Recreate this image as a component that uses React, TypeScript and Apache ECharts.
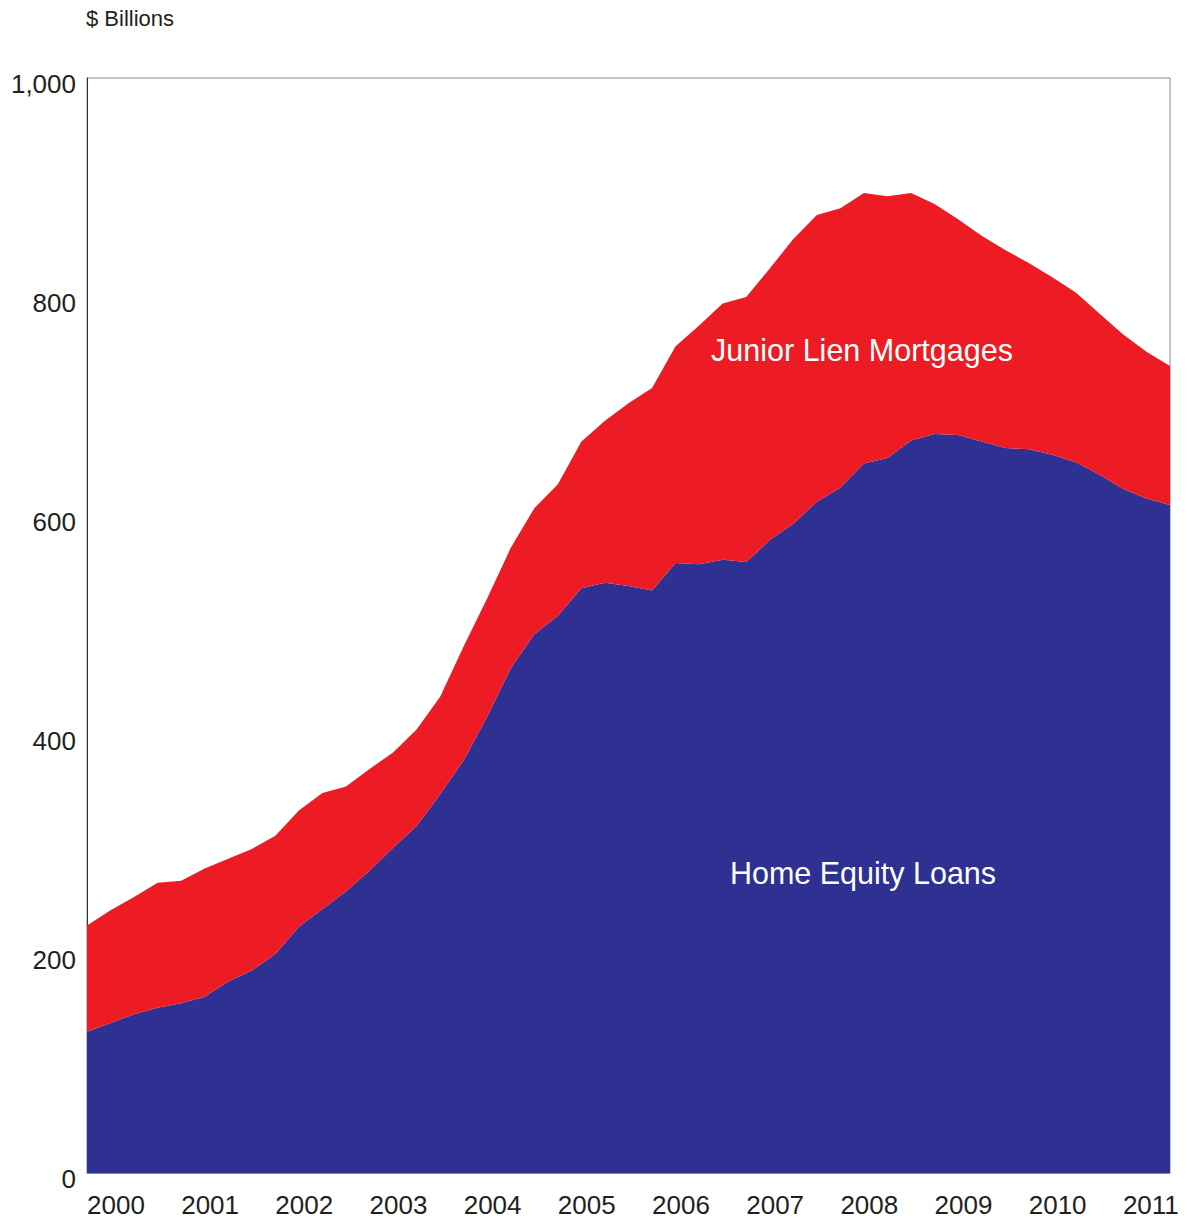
import React, { useEffect, useRef } from "react";
import * as echarts from "echarts";

const years = ["2000", "2001", "2002", "2003", "2004", "2005", "2006", "2007", "2008", "2009", "2010", "2011"];
const quarters = ["Q1", "Q2", "Q3", "Q4"];
// 2000 Q1 through 2011 Q3
const categories: string[] = years
  .flatMap((y) => quarters.map((q) => `${y} ${q}`))
  .slice(0, 47);

// $ Billions
const homeEquityLoans = [
  129, 137, 145, 151, 155, 161, 175, 185, 200, 225, 241, 257,
  276, 297, 317, 346, 377, 417, 461, 492, 509, 534, 539, 536,
  532, 557, 556, 560, 558, 578, 593, 613, 626, 648, 653, 669,
  675, 674, 668, 662, 661, 656, 649, 638, 625, 616, 610,
];
const juniorLienMortgages = [
  97, 103, 107, 114, 112, 117, 112, 111, 108, 106, 106, 96,
  93, 87, 88, 89, 104, 108, 110, 115, 120, 134, 148, 167,
  185, 198, 218, 234, 242, 248, 260, 262, 255, 247, 239, 226,
  210, 197, 188, 181, 170, 162, 155, 147, 141, 134, 127,
];

const yTicks = [0, 200, 400, 600, 800, 1000];

const FONT = "'Liberation Sans', Arial, Helvetica, sans-serif";
const TEXT = "#231F20";
const BLUE = "#2E3192";
const RED = "#ED1C24";

export default function App() {
  const ref = useRef<HTMLDivElement>(null);

  useEffect(() => {
    document.body.style.margin = "0";
    if (!ref.current) return;
    const chart = echarts.init(ref.current, null, { renderer: "svg" });
    chart.setOption({
      animation: false,
      backgroundColor: "#ffffff",
      textStyle: { fontFamily: FONT },
      grid: {
        left: 87,
        top: 78,
        width: 1083,
        height: 1095,
        show: true,
        borderColor: "#8a8a8a",
        borderWidth: 1,
        backgroundColor: "transparent",
      },
      graphic: [
        {
          type: "text",
          x: 86,
          y: 18,
          style: {
            text: "$ Billions",
            fill: TEXT,
            font: `22px ${FONT}`,
            align: "left",
            verticalAlign: "middle",
          },
        },
        {
          type: "text",
          x: 862,
          y: 350,
          z: 10,
          style: {
            text: "Junior Lien Mortgages",
            fill: "#ffffff",
            font: `30.5px ${FONT}`,
            align: "center",
            verticalAlign: "middle",
          },
        },
        {
          type: "text",
          x: 863,
          y: 873,
          z: 10,
          style: {
            text: "Home Equity Loans",
            fill: "#ffffff",
            font: `30.5px ${FONT}`,
            align: "center",
            verticalAlign: "middle",
          },
        },
      ],
      xAxis: {
        type: "category",
        data: categories,
        boundaryGap: false,
        axisLine: { show: true, lineStyle: { color: "#8a8a8a", width: 1 } },
        axisTick: { show: false },
        splitLine: { show: false },
        axisLabel: {
          interval: 3,
          align: "left",
          margin: 19,
          color: TEXT,
          fontSize: 26,
          fontFamily: FONT,
          formatter: (v: string) => v.slice(0, 4),
        },
      },
      yAxis: {
        type: "value",
        min: yTicks[0],
        max: yTicks[yTicks.length - 1],
        interval: 200,
        axisLine: { show: true, lineStyle: { color: "#333333", width: 1 } },
        axisTick: { show: false },
        splitLine: { show: false },
        axisLabel: {
          margin: 11,
          verticalAlign: "top",
          lineHeight: 11,
          color: TEXT,
          fontSize: 26,
          fontFamily: FONT,
          formatter: (v: number) => v.toLocaleString("en-US"),
        },
      },
      series: [
        {
          name: "Home Equity Loans",
          type: "line",
          stack: "total",
          data: homeEquityLoans,
          showSymbol: false,
          symbol: "none",
          lineStyle: { width: 0 },
          areaStyle: { color: BLUE, opacity: 1 },
          itemStyle: { color: BLUE },
        },
        {
          name: "Junior Lien Mortgages",
          type: "line",
          stack: "total",
          data: juniorLienMortgages,
          showSymbol: false,
          symbol: "none",
          lineStyle: { width: 0 },
          areaStyle: { color: RED, opacity: 1 },
          itemStyle: { color: RED },
        },
      ],
    });
    return () => chart.dispose();
  }, []);

  return <div ref={ref} style={{ width: 1187, height: 1224 }} />;
}
